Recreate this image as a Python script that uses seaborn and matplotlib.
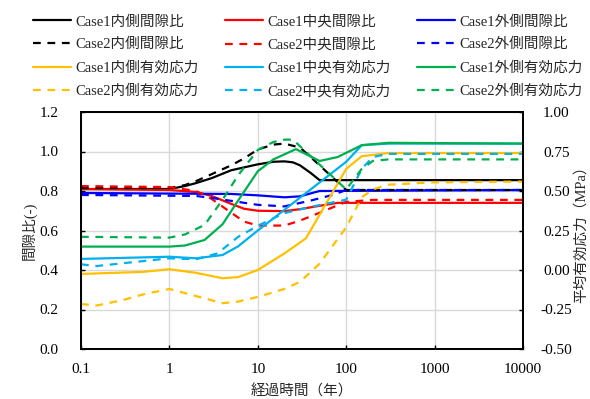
import numpy as np
import pandas as pd
import matplotlib
matplotlib.use("Agg")
import matplotlib.pyplot as plt
from matplotlib.lines import Line2D
import seaborn as sns

sns.set_style("ticks")
FONT = ["Liberation Serif", "Noto Sans CJK JP", "DejaVu Sans"]
plt.rcParams["font.family"] = FONT
plt.rcParams["axes.unicode_minus"] = False

# ---- void ratio (left axis) ----
t_c1_in_e = [0.1, 1, 1.5, 2, 3, 5, 10, 15, 20, 25, 30, 40, 50, 10000]
c1_in_e = [0.81, 0.81, 0.825, 0.84, 0.865, 0.905, 0.935, 0.948, 0.95, 0.945, 0.93, 0.89, 0.855, 0.855]
t_c2_in_e = [0.1, 1, 1.5, 2, 3, 5, 7, 10, 15, 20, 30, 40, 100, 10000]
c2_in_e = [0.815, 0.815, 0.83, 0.85, 0.885, 0.93, 0.965, 1.01, 1.035, 1.04, 1.02, 0.97, 0.805, 0.805]
t_c1_mid_e = [0.1, 1, 2, 3, 5, 7, 10, 20, 30, 50, 80, 10000]
c1_mid_e = [0.81, 0.805, 0.795, 0.775, 0.735, 0.71, 0.70, 0.698, 0.708, 0.725, 0.74, 0.74]
t_c2_mid_e = [0.1, 1, 2, 3, 5, 7, 10, 20, 30, 50, 100, 200, 10000]
c2_mid_e = [0.825, 0.82, 0.80, 0.76, 0.69, 0.645, 0.625, 0.625, 0.65, 0.69, 0.745, 0.755, 0.755]
t_c1_out_e = [0.1, 1, 5, 10, 20, 30, 50, 10000]
c1_out_e = [0.79, 0.787, 0.785, 0.778, 0.768, 0.773, 0.80, 0.805]
t_c2_out_e = [0.1, 2, 3, 5, 10, 20, 40, 70, 100, 10000]
c2_out_e = [0.78, 0.775, 0.765, 0.75, 0.73, 0.722, 0.752, 0.78, 0.805, 0.805]

# ---- mean effective stress, MPa (right axis) ----
t_c1_in_s = [0.1, 0.5, 1, 2, 4, 6, 10, 20, 35, 100, 150, 300, 10000]
c1_in_s = [-0.025, -0.012, 0.005, -0.018, -0.052, -0.045, 0.0, 0.105, 0.2, 0.64, 0.72, 0.74, 0.74]
t_c2_in_s = [0.1, 0.15, 0.3, 0.5, 1, 2, 4, 6, 10, 20, 30, 50, 100, 150, 200, 300, 1000, 10000]
c2_in_s = [-0.215, -0.225, -0.19, -0.155, -0.12, -0.165, -0.21, -0.20, -0.17, -0.12, -0.075,
           0.04, 0.27, 0.46, 0.51, 0.54, 0.555, 0.56]
t_c1_mid_s = [0.1, 1, 2, 4, 6, 10, 100, 150, 300, 10000]
c1_mid_s = [0.07, 0.084, 0.074, 0.095, 0.15, 0.25, 0.685, 0.79, 0.80, 0.80]
t_c2_mid_s = [0.1, 0.15, 1, 2, 3.5, 6, 10, 20, 40, 100, 150, 200, 300, 10000]
c2_mid_s = [0.036, 0.025, 0.074, 0.068, 0.105, 0.21, 0.28, 0.36, 0.40, 0.445, 0.64, 0.715, 0.735, 0.735]
t_c1_out_s = [0.1, 1, 1.5, 2.5, 4, 6, 10, 15, 27, 50, 80, 150, 300, 10000]
c1_out_s = [0.148, 0.148, 0.155, 0.19, 0.29, 0.44, 0.625, 0.70, 0.765, 0.69, 0.715, 0.79, 0.805, 0.80]
t_c2_out_s = [0.1, 1, 1.5, 2.5, 4, 6, 10, 15, 20, 25, 100, 150, 200, 300, 10000]
c2_out_s = [0.21, 0.205, 0.225, 0.285, 0.445, 0.60, 0.76, 0.81, 0.825, 0.825, 0.51, 0.64, 0.69, 0.70, 0.70]

labels = ["Case1内側間隙比", "Case1中央間隙比", "Case1外側間隙比",
          "Case2内側間隙比", "Case2中央間隙比", "Case2外側間隙比",
          "Case1内側有効応力", "Case1中央有効応力", "Case1外側有効応力",
          "Case2内側有効応力", "Case2中央有効応力", "Case2外側有効応力"]
x_ticks = [0.1, 1, 10, 100, 1000, 10000]
x_ticklabels = ["0.1", "1", "10", "100", "1000", "10000"]
left_ticks = [0.0, 0.2, 0.4, 0.6, 0.8, 1.0, 1.2]
right_ticks = [-0.5, -0.25, 0.0, 0.25, 0.5, 0.75, 1.0]

series = [
    (t_c1_in_e, c1_in_e, "#000000", "-", "L"),
    (t_c1_mid_e, c1_mid_e, "#FF0000", "-", "L"),
    (t_c1_out_e, c1_out_e, "#0000FF", "-", "L"),
    (t_c2_in_e, c2_in_e, "#000000", "--", "L"),
    (t_c2_mid_e, c2_mid_e, "#FF0000", "--", "L"),
    (t_c2_out_e, c2_out_e, "#0000FF", "--", "L"),
    (t_c1_in_s, c1_in_s, "#FFC000", "-", "R"),
    (t_c1_mid_s, c1_mid_s, "#00B0F0", "-", "R"),
    (t_c1_out_s, c1_out_s, "#00B050", "-", "R"),
    (t_c2_in_s, c2_in_s, "#FFC000", "--", "R"),
    (t_c2_mid_s, c2_mid_s, "#00B0F0", "--", "R"),
    (t_c2_out_s, c2_out_s, "#00B050", "--", "R"),
]

DASH = (0, (3.5, 3.0))
LW = 1.6
FS = 10.5
TICK_FS = 11

fig = plt.figure(figsize=(5.9, 3.99), dpi=100)
ax = fig.add_axes([81 / 590, 1 - 349 / 399, 442 / 590, 237 / 399])
ax2 = ax.twinx()

handles = []
for (tx, vals, col, ls, side), lab in zip(series, labels):
    target = ax if side == "L" else ax2
    style = "-" if ls == "-" else DASH
    df = pd.DataFrame({"t": tx, "v": vals})
    sns.lineplot(data=df, x="t", y="v", ax=target, color=col, linestyle=style,
                 linewidth=LW, legend=False)
    handles.append(Line2D([], [], color=col, linestyle=style, linewidth=LW))

for a in (ax, ax2):
    a.set_xscale("log")
    a.set_xlim(0.1, 10000)
    a.minorticks_off()

ax.set_ylim(0, 1.2)
ax.set_yticks(left_ticks)
ax.set_yticklabels([f"{v:.1f}" for v in left_ticks])
ax2.set_ylim(-0.5, 1.0)
ax2.set_yticks(right_ticks)
ax2.set_yticklabels([f"{v:.2f}" for v in right_ticks])
ax.set_xticks(x_ticks)
ax.set_xticklabels(x_ticklabels)
ax.xaxis.set_minor_locator(matplotlib.ticker.NullLocator())

ax.grid(True, color="#d9d9d9", linewidth=1.0)
ax.set_axisbelow(True)
ax2.grid(False)

for a in (ax, ax2):
    for sp in a.spines.values():
        sp.set_color("black")
        sp.set_linewidth(1.3)
ax.tick_params(axis="x", direction="in", length=3, width=1, colors="black",
               labelsize=TICK_FS, pad=10)
ax.tick_params(axis="y", direction="in", length=3, width=1, colors="black",
               labelsize=TICK_FS, pad=16)
ax2.tick_params(axis="y", direction="in", length=3, width=1, colors="black",
                labelsize=TICK_FS, pad=24)
plt.setp(ax2.get_yticklabels(), ha="center")

ax.set_xlabel("経過時間（年）", fontsize=FS)
ax.set_ylabel("間隙比(-)", fontsize=FS)
ax2.set_ylabel("平均有効応力（MPa）", fontsize=FS)
ax.xaxis.set_label_coords(0.5, -0.15)
ax.yaxis.set_label_coords(-0.10, 0.5)
ax2.yaxis.set_label_coords(1.116, 0.5)

# legend laid out row by row in three columns
order = [r * 3 + c for c in range(3) for r in range(4)]
fig.legend([handles[i] for i in order], [labels[i] for i in order],
           loc="upper left", bbox_to_anchor=(33 / 590, 1 - 15 / 399), ncol=3,
           frameon=False, fontsize=FS, handlelength=2.6, handletextpad=0.3,
           columnspacing=1.8, labelspacing=0.66, borderpad=0, borderaxespad=0)

fig.savefig("out.png", dpi=100)
